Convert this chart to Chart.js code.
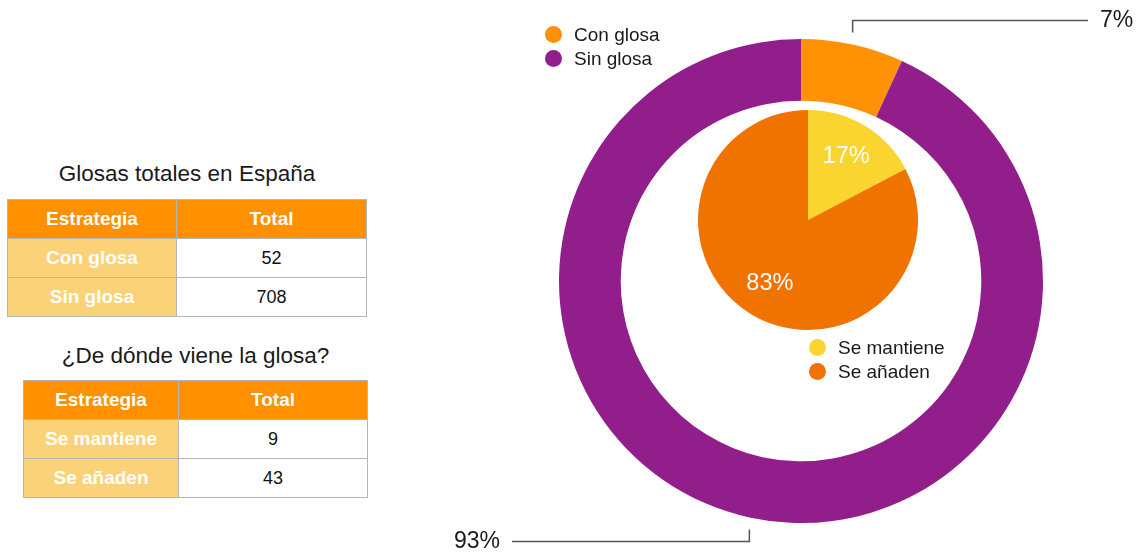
<!DOCTYPE html>
<html lang="es">
<head>
<meta charset="UTF-8">
<title>Glosas totales en España</title>
<script src="https://cdn.jsdelivr.net/npm/chart.js"></script>
<style>
    body { margin: 0; background: #fff; font-family: "Liberation Sans", Arial, Helvetica, sans-serif; }
    #page { position: relative; width: 1141px; height: 553px; overflow: hidden; }
    canvas { position: absolute; }
    .titulo { position: absolute; font-size: 22.5px; color: #1a1a1a; text-align: center; }
    table { position: absolute; border-collapse: collapse; font-size: 18px; }
    td, th { border: 1px solid #b5b5b5; text-align: center; padding: 0; }
    th { background: #ff9100; color: #fff; font-weight: bold; font-size: 19px; }
    td.cat { background: #fbd277; color: #fff; font-weight: bold; font-size: 19px; }
    td.val { background: #fff; color: #111; }
    .leyenda { position: absolute; font-size: 19px; color: #1a1a1a; }
    .leyenda div { height: 24px; line-height: 24px; white-space: nowrap; }
    .leyenda span { display: inline-block; width: 17px; height: 17px; border-radius: 50%; vertical-align: -2px; margin-right: 12px; }
</style>
</head>
<body>
<div id="page">
    <div class="titulo" style="left:7px; top:161px; width:360px;">Glosas totales en España</div>
    <table id="tabla1" style="left:7px; top:199px;"></table>
    <div class="titulo" style="left:23px; top:343px; width:345px;">¿De dónde viene la glosa?</div>
    <table id="tabla2" style="left:23px; top:380px;"></table>

    <canvas id="anillo" width="1141" height="553" style="left:0; top:0;"></canvas>
    <canvas id="tarta" width="220" height="220" style="left:698px; top:110px;"></canvas>

    <div class="leyenda" id="ley1" style="left:545px; top:23px;"></div>
    <div class="leyenda" id="ley2" style="left:809px; top:336px;"></div>
</div>

<script>
    // Glosas totales
    const categoriasGlosa = ['Con glosa', 'Sin glosa'];
    const totalesGlosa = [52, 708];
    const coloresGlosa = ['#ff9105', '#921e8c'];

    // Origen de la glosa
    const categoriasOrigen = ['Se mantiene', 'Se añaden'];
    const totalesOrigen = [9, 43];
    const coloresOrigen = ['#fbd52f', '#f07300'];

    const cabecera = ['Estrategia', 'Total'];

    function rellenarTabla(id, cats, vals, anchos) {
        const tabla = document.getElementById(id);
        let html = '<tr style="height:39px">';
        cabecera.forEach((h, i) => html += '<th style="width:' + anchos[i] + 'px">' + h + '</th>');
        html += '</tr>';
        cats.forEach((c, i) => {
            html += '<tr style="height:39px"><td class="cat">' + c + '</td><td class="val">' + vals[i] + '</td></tr>';
        });
        tabla.innerHTML = html;
    }
    rellenarTabla('tabla1', categoriasGlosa, totalesGlosa, [168, 189]);
    rellenarTabla('tabla2', categoriasOrigen, totalesOrigen, [154, 188]);

    function rellenarLeyenda(id, cats, colores) {
        document.getElementById(id).innerHTML = cats.map((c, i) =>
            '<div><span style="background:' + colores[i] + '"></span>' + c + '</div>').join('');
    }
    rellenarLeyenda('ley1', categoriasGlosa, coloresGlosa);
    rellenarLeyenda('ley2', categoriasOrigen, coloresOrigen);

    function porcentaje(vals, i) {
        const total = vals.reduce((a, b) => a + b, 0);
        return Math.round(vals[i] / total * 100) + '%';
    }

    // Etiquetas exteriores con línea guía
    const lineasGuia = {
        id: 'lineasGuia',
        afterDatasetsDraw(chart) {
            const ctx = chart.ctx;
            const vals = chart.data.datasets[0].data;
            chart.getDatasetMeta(0).data.forEach((arc, i) => {
                const mid = (arc.startAngle + arc.endAngle) / 2;
                const ex = arc.x + Math.cos(mid) * arc.outerRadius;
                const ey = arc.y + Math.sin(mid) * arc.outerRadius;
                const arriba = ey < arc.y;
                const derecha = ex > arc.x;
                const y0 = arriba ? ey - 12 : ey + 12;
                const y1 = arriba ? y0 - 12 : y0 + 12;
                const x1 = derecha ? arc.x + 287 : arc.x - 289;
                ctx.save();
                ctx.strokeStyle = '#555';
                ctx.lineWidth = 1.5;
                ctx.beginPath();
                ctx.moveTo(ex, y0);
                ctx.lineTo(ex, y1);
                ctx.lineTo(x1, y1);
                ctx.stroke();
                ctx.fillStyle = '#1a1a1a';
                ctx.font = '23px "Liberation Sans", Arial, sans-serif';
                ctx.textBaseline = 'middle';
                ctx.textAlign = derecha ? 'left' : 'right';
                ctx.fillText(porcentaje(vals, i), derecha ? x1 + 12 : x1 - 12, y1);
                ctx.restore();
            });
        }
    };

    // Porcentajes dentro de la tarta
    const etiquetasInternas = {
        id: 'etiquetasInternas',
        afterDatasetsDraw(chart) {
            const ctx = chart.ctx;
            const vals = chart.data.datasets[0].data;
            chart.getDatasetMeta(0).data.forEach((arc, i) => {
                const mid = (arc.startAngle + arc.endAngle) / 2;
                const r = arc.outerRadius * 0.67;
                ctx.save();
                ctx.fillStyle = '#fff';
                ctx.font = '23.5px "Liberation Sans", Arial, sans-serif';
                ctx.textAlign = 'center';
                ctx.textBaseline = 'middle';
                ctx.fillText(porcentaje(vals, i), arc.x + Math.cos(mid) * r, arc.y + Math.sin(mid) * r);
                ctx.restore();
            });
        }
    };

    new Chart(document.getElementById('anillo'), {
        type: 'doughnut',
        data: {
            labels: categoriasGlosa,
            datasets: [{ data: totalesGlosa, backgroundColor: coloresGlosa, borderWidth: 0 }]
        },
        options: {
            responsive: false,
            animation: false,
            cutout: '74.5%',
            layout: { padding: { left: 559, top: 39, right: 98, bottom: 30 } },
            plugins: { legend: { display: false }, tooltip: { enabled: false } }
        },
        plugins: [lineasGuia]
    });

    new Chart(document.getElementById('tarta'), {
        type: 'pie',
        data: {
            labels: categoriasOrigen,
            datasets: [{ data: totalesOrigen, backgroundColor: coloresOrigen, borderWidth: 0 }]
        },
        options: {
            responsive: false,
            animation: false,
            plugins: { legend: { display: false }, tooltip: { enabled: false } }
        },
        plugins: [etiquetasInternas]
    });
</script>
</body>
</html>
